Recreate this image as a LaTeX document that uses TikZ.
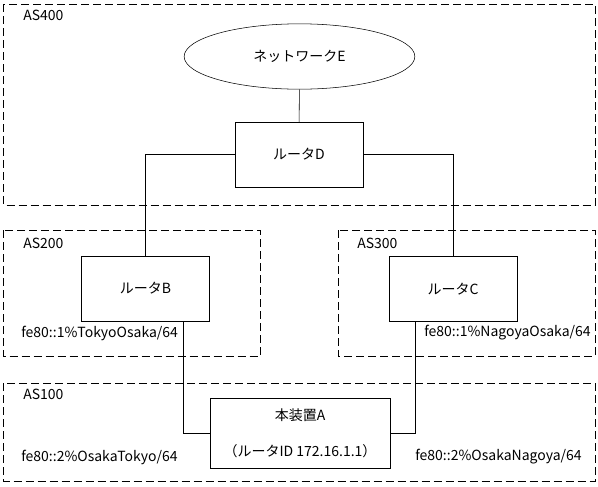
\documentclass[tikz,border=0pt]{standalone}
\usepackage{fontspec}
\setmainfont{Noto Sans CJK JP}
\usetikzlibrary{positioning,shapes.geometric}

\begin{document}
\begin{tikzpicture}[x=0.75pt, y=-0.75pt, font=\fontsize{10.5pt}{12pt}\selectfont,
  router/.style={shape=rectangle, draw=black, minimum width=96pt, minimum height=48.5pt},
  area/.style={draw=black, dash pattern=on 6pt off 3pt},
  tag/.style={anchor=west, inner sep=0pt}]
\useasboundingbox (0,0) rectangle (598,486);
% AS areas
\draw[area] (3.5,4) rectangle (595,205);
\draw[area] (3.5,230) rectangle (260,356);
\draw[area] (338,230) rectangle (595,356);
\draw[area] (3.5,383) rectangle (595,481);
\node[tag] (as400) at (23,15) {AS400};
\node[tag] (as200) at (23,243) {AS200};
\node[tag] (as300) at (357,243) {AS300};
\node[tag] (as100) at (23,394) {AS100};
% devices
\node[shape=ellipse, draw=black, minimum width=173pt, minimum height=49pt] (E) at (299.5,56.5) {ネットワークE};
\node[router] (D) at (299,154.5) {ルータD};
\node[router] (B) at (145.5,288.5) {ルータB};
\node[router] (C) at (453,289) {ルータC};
\node[router, minimum width=135pt, minimum height=52.5pt, align=center] (A) at (300,433.5) {本装置A\\[15pt]（ルータID 172.16.1.1）};
% links
\draw (E) -- (D);
\draw (D.west) -| (B.north);
\draw (D.east) -| (C.north);
\draw ([xshift=28pt]B.south) |- (A.west);
\draw ([xshift=-28pt]C.south) |- (A.east);
% addresses
\node[tag] (addrB) at (21,333) {fe80::1\%TokyoOsaka/64};
\node[tag] (addrC) at (424,333) {fe80::1\%NagoyaOsaka/64};
\node[tag] (addrAB) at (21,457) {fe80::2\%OsakaTokyo/64};
\node[tag] (addrAC) at (415,457) {fe80::2\%OsakaNagoya/64};
\end{tikzpicture}
\end{document}
